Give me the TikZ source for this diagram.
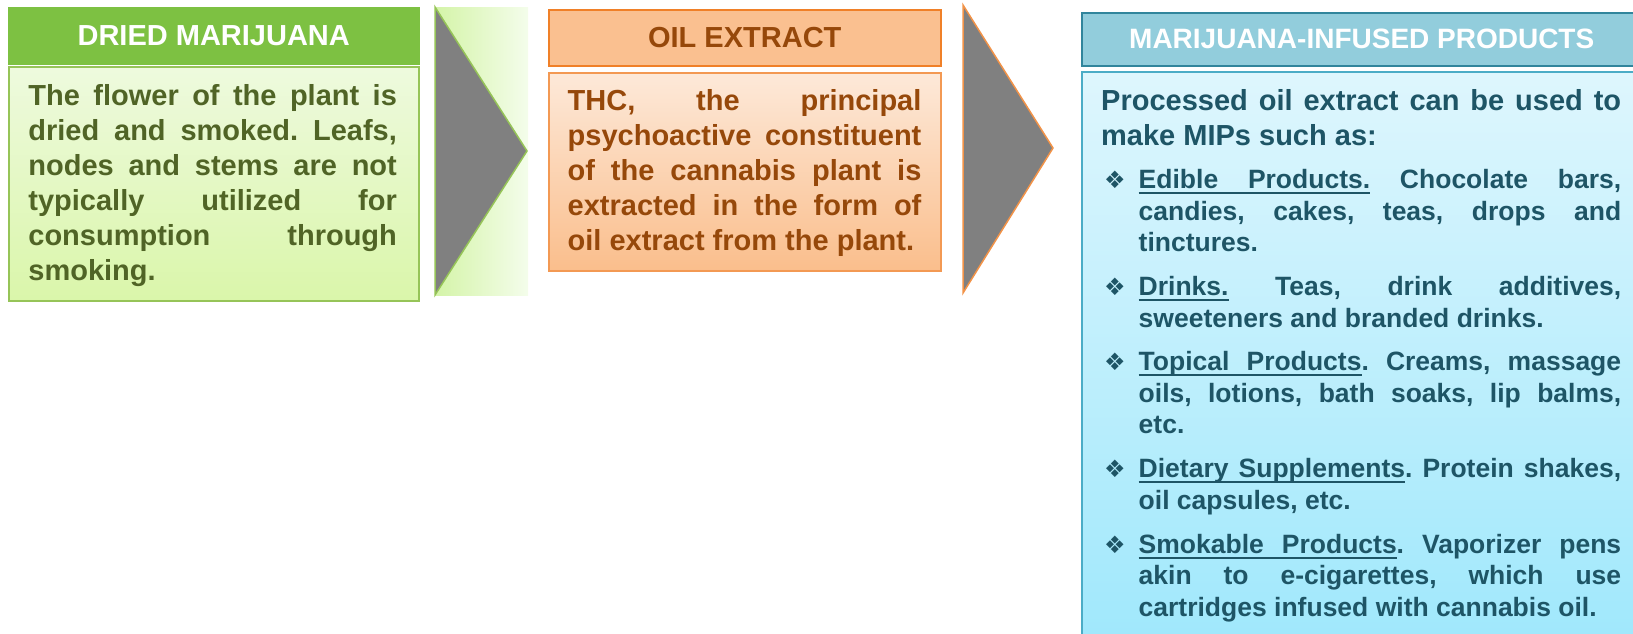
\documentclass[tikz,border=0pt]{standalone}
\usepackage{fontspec}
\setmainfont{Liberation Sans}
\newfontfamily\dingfont{DejaVu Sans}
\usepackage{tikz}
\usetikzlibrary{positioning}
\definecolor{dryfill}{RGB}{125,193,66}
\definecolor{dryline}{RGB}{150,196,88}
\definecolor{drytext}{RGB}{80,100,38}
\definecolor{drytop}{RGB}{238,250,222}
\definecolor{drybot}{RGB}{218,246,170}
\definecolor{drychevl}{RGB}{212,244,168}
\definecolor{drychevr}{RGB}{244,253,235}
\definecolor{oilfill}{RGB}{250,192,144}
\definecolor{oilline}{RGB}{240,128,40}
\definecolor{oiltext}{RGB}{150,72,10}
\definecolor{oiltop}{RGB}{253,233,217}
\definecolor{oilbot}{RGB}{250,190,140}
\definecolor{mipfill}{RGB}{146,205,220}
\definecolor{mipline}{RGB}{49,133,156}
\definecolor{mipbodyline}{RGB}{75,172,198}
\definecolor{miptext}{RGB}{30,85,102}
\definecolor{miptop}{RGB}{222,246,253}
\definecolor{mipbot}{RGB}{160,232,252}
\definecolor{chevgray}{RGB}{128,128,128}
\tikzstyle{headbox} = [rectangle, anchor=north west, inner sep=0pt, line width=1.5pt, font=\bfseries\fontsize{29}{35}\selectfont]
\tikzstyle{bodybox} = [rectangle, anchor=north west, inner sep=0pt, line width=1.5pt]
\tikzstyle{bodytext} = [anchor=base west, inner sep=0pt, align=justify, font=\bfseries\frenchspacing\fontsize{29}{35}\selectfont]
\tikzstyle{chevron} = [fill=chevgray, line width=1.5pt, line join=miter]
% underlined words and stretchable underlined space
\newsavebox\ulbox
\newcommand{\ulw}[1]{\sbox\ulbox{#1}\rlap{\vrule height -3.5pt depth 5.5pt width \wd\ulbox}\usebox\ulbox}
\newcommand{\ulsp}{\leaders\hrule height -3.5pt depth 5.5pt\hskip\fontdimen2\font plus\fontdimen3\font minus\fontdimen4\font\relax}
\newcommand{\mipitem}[1]{\par\vspace{12.3pt}\noindent\hangindent=37.5pt\hangafter=1%
  \hbox to 37.5pt{\hspace{3pt}{\dingfont\fontsize{24}{24}\selectfont ❖}\hfil}#1\par}
\hbadness=10000

\begin{document}
\begin{tikzpicture}[x=1pt, y=-1pt]
\useasboundingbox (0,0) rectangle (1633,633);
% Dried marijuana
\node[headbox, minimum width=410pt, minimum height=56pt, fill=dryfill, draw=dryfill, text=white] (dryhead) at (8,7) {DRIED MARIJUANA};
\node[bodybox, minimum width=410pt, minimum height=234pt, top color=drytop, bottom color=drybot, draw=dryline] (drybody) at (8,66) {};
\node[bodytext, text width=368.5pt, text=drytext] (drytext) at (28.2,105) {The flower of the plant is\linebreak dried and smoked. Leafs,\linebreak nodes and stems are not\linebreak typically utilized for\linebreak consumption through\linebreak smoking.};

% Chevron 1
\coordinate (drychevtop) at (435,7);
\coordinate (drychevend) at (528,295);
\coordinate (drychevtip) at (527,151);
\coordinate (drychevbot) at (435,295);
\fill[left color=drychevl, right color=drychevr] (drychevtop) rectangle (drychevend);
\draw[chevron, draw=dryline] (drychevtop) -- (drychevtip) -- (drychevbot) -- cycle;

% Oil extract
\node[headbox, minimum width=392pt, minimum height=56pt, fill=oilfill, draw=oilline, text=oiltext] (oilhead) at (548,9) {OIL EXTRACT};
\node[bodybox, minimum width=392pt, minimum height=198pt, top color=oiltop, bottom color=oilbot, draw=oilline!80!white] (oilbody) at (548,72) {};
\node[bodytext, text width=353.7pt, text=oiltext] (oiltext) at (567.5,110) {THC, the principal\linebreak psychoactive constituent\linebreak of the cannabis plant is\linebreak extracted in the form of\linebreak oil extract from the plant.};

% Chevron 2
\coordinate (oilchevtop) at (963,5);
\coordinate (oilchevtip) at (1053,148);
\coordinate (oilchevbot) at (963,293);
\draw[chevron, draw=oilline!85!white] (oilchevtop) -- (oilchevtip) -- (oilchevbot) -- cycle;

% Marijuana-infused products
\node[headbox, minimum width=560pt, minimum height=53pt, fill=mipfill, draw=mipline, text=white, font=\bfseries\fontsize{28}{34}\selectfont] (miphead) at (1081,12) {MARIJUANA-INFUSED PRODUCTS};
\node[bodybox, minimum width=560pt, minimum height=570pt, top color=miptop, bottom color=mipbot, draw=mipbodyline] (mipbody) at (1081,71) {};
\node[bodytext, text width=520pt, text=miptext] (miptext) at (1101,110) {Processed oil extract can be used to\linebreak make MIPs such as:\par
\fontsize{26.5}{31.5}\selectfont
\mipitem{\ulw{Edible}\ulsp\ulw{Products.} Chocolate bars,\linebreak candies, cakes, teas, drops and\linebreak tinctures.}
\mipitem{\ulw{Drinks.} Teas, drink additives,\linebreak sweeteners and branded drinks.}
\mipitem{\ulw{Topical}\ulsp\ulw{Products}. Creams, massage\linebreak oils, lotions, bath soaks, lip balms,\linebreak etc.}
\mipitem{\ulw{Dietary}\ulsp\ulw{Supplements}. Protein shakes,\linebreak oil capsules, etc.}
\mipitem{\ulw{Smokable}\ulsp\ulw{Products}. Vaporizer pens\linebreak akin to e-cigarettes, which use\linebreak cartridges infused with cannabis oil.}};
\end{tikzpicture}
\end{document}
